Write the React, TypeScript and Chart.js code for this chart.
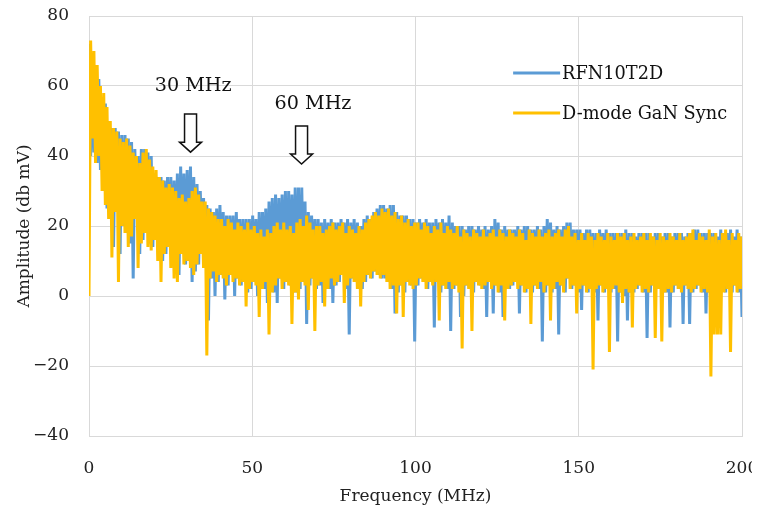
import React, { useEffect, useRef } from "react";
import { Chart, registerables } from "chart.js";
Chart.register(...registerables);

// 1 MHz bins (0..199): peak and trough (dB mV)
const BLUE_HI = [
  72, 67, 66, 62, 56, 55, 50, 48, 48, 47,
  46, 46, 45, 44, 42, 40, 42, 42, 41, 40,
  35, 34, 34, 33, 34, 34, 33, 35, 37, 35,
  36, 37, 34, 32, 30, 28, 26, 25, 24, 25,
  26, 24, 23, 23, 23, 24, 22, 22, 22, 22,
  23, 22, 24, 24, 25, 27, 28, 29, 28, 29,
  30, 30, 29, 31, 31, 31, 27, 24, 23, 22,
  22, 21, 22, 21, 22, 21, 21, 22, 21, 22,
  21, 22, 21, 20, 22, 23, 22, 24, 25, 26,
  26, 25, 26, 26, 24, 23, 23, 23, 22, 22,
  21, 22, 21, 22, 21, 21, 22, 21, 22, 21,
  23, 21, 20, 20, 20, 19, 20, 20, 19, 20,
  19, 20, 19, 20, 22, 21, 19, 20, 19, 19,
  19, 20, 19, 20, 20, 19, 19, 20, 19, 20,
  22, 21, 19, 20, 19, 20, 21, 21, 19, 19,
  19, 18, 19, 19, 18, 18, 19, 18, 19, 18,
  18, 18, 18, 18, 19, 18, 18, 17, 18, 18,
  18, 18, 17, 18, 18, 17, 18, 18, 17, 18,
  18, 18, 17, 18, 18, 19, 19, 18, 18, 18,
  18, 18, 17, 19, 18, 18, 19, 17, 19, 17,
];
const BLUE_LO = [
  40, 41, 38, 36, 30, 25, 24, 14, 24, 12,
  20, 18, 15, 5, 22, 12, 16, 18, 15, 14,
  16, 12, 10, 12, 14, 10, 8, 6, 12, 9,
  10, 4, 7, 9, 12, 8, -7, 5, 0, 4,
  6, -1, 3, 6, 0, 5, 3, 4, 1, 2,
  4, 0, 2, 2, -2, 3, 1, -2, 5, 2,
  4, 3, 1, 1, 2, 4, -8, 3, 5, 2,
  3, -2, 3, 2, -2, 3, 4, 6, 2, -11,
  5, 4, 2, 2, 4, 6, 5, 7, 6, 5,
  5, 4, 2, -5, 1, 3, 1, 4, 3, -13,
  3, 5, 4, 2, 4, -9, 4, 1, 3, 2,
  -10, 2, 3, -6, 0, 3, 2, 1, 4, 3,
  2, -6, 4, -5, 3, 1, -6, 2, 2, 3,
  4, -5, 3, 1, 2, 1, 3, 2, -13, 1,
  3, 1, 2, -11, 3, 1, 5, 2, 3, 1,
  -4, 3, 1, 2, 1, -7, 3, 1, 2, 1,
  2, -13, 1, 0, -7, 1, 1, 2, 3, 1,
  -12, 1, 3, 2, 2, 1, 1, -9, 1, 3,
  2, -8, 3, -8, 1, 2, 3, 1, -5, 1,
  1, 1, 2, 2, 1, 2, 1, 3, 1, -6,
];
const GOLD_HI = [
  73, 70, 66, 60, 58, 54, 50, 48, 47, 45,
  44, 45, 43, 41, 40, 38, 41, 42, 39, 37,
  36, 34, 33, 31, 32, 31, 30, 28, 29, 27,
  28, 30, 31, 29, 27, 27, 25, 24, 23, 22,
  22, 20, 22, 21, 19, 21, 20, 19, 21, 19,
  20, 18, 19, 17, 19, 18, 20, 21, 19, 21,
  19, 20, 18, 21, 22, 20, 23, 21, 19, 20,
  20, 18, 19, 20, 21, 19, 20, 21, 18, 20,
  19, 18, 20, 19, 21, 22, 23, 24, 23, 25,
  24, 25, 23, 24, 22, 23, 21, 22, 20, 21,
  21, 19, 21, 20, 18, 20, 19, 21, 18, 20,
  19, 18, 20, 17, 19, 18, 17, 19, 18, 17,
  19, 17, 18, 19, 17, 19, 18, 17, 19, 18,
  17, 19, 18, 16, 19, 18, 17, 19, 17, 18,
  19, 17, 18, 19, 17, 19, 20, 17, 18, 16,
  18, 16, 18, 17, 16, 18, 17, 16, 18, 17,
  16, 18, 17, 18, 16, 17, 18, 16, 17, 18,
  16, 18, 17, 16, 18, 17, 16, 18, 17, 16,
  18, 16, 17, 18, 19, 16, 18, 17, 16, 19,
  17, 18, 16, 18, 19, 16, 18, 16, 18, 17,
];
const GOLD_LO = [
  0, 45, 38, 40, 30, 26, 22, 11, 24, 4,
  20, 18, 14, 17, 22, 8, 15, 18, 14, 13,
  16, 10, 4, 12, 14, 8, 5, 4, 12, 9,
  10, 8, 6, 9, 12, 8, -17, 5, 7, 4,
  6, 5, 3, 6, 4, 5, 3, 4, -3, 2,
  4, 3, -6, 2, 4, -11, 1, 3, 5, 2,
  4, 3, -8, 1, -1, 4, 3, -4, 5, -10,
  3, 4, -3, 2, 5, 3, 4, 6, -2, 3,
  5, 4, 2, -3, 4, 6, 5, 7, 6, 5,
  6, 4, 2, 3, -5, 3, -6, 4, 3, 2,
  3, 5, 4, 2, 4, 3, 4, -7, 3, 2,
  4, 2, 3, 1, -15, 3, 2, -10, 4, 3,
  2, 3, 4, 2, 3, 1, 3, -7, 2, 3,
  4, 2, 3, 1, 2, -8, 3, 2, 4, 1,
  3, -7, 2, 4, 3, 1, 5, 2, 3, -5,
  2, 3, 1, 2, -21, 2, 3, 1, 2, -16,
  2, 3, 1, -2, 2, 1, -9, 2, 3, 1,
  2, 1, 3, -12, 2, -13, 1, 2, 1, 3,
  2, 1, 3, 2, 1, 2, 3, 1, 2, 1,
  -23, -11, -11, -11, 1, 2, -16, 3, 1, 2,
];

const X_TICKS = [0, 50, 100, 150, 200];
const Y_TICKS = [-40, -20, 0, 20, 40, 60, 80];
const SERIES_NAMES = ["RFN10T2D", "D-mode GaN Sync"];
const COLORS = ["#5B9BD5", "#FFC000"];

// annotations: [label, text centre MHz, text centre dB, arrow MHz, arrow top dB, arrow tip dB]
const MARKERS: [string, number, number, number, number, number][] = [
  ["30 MHz", 31.9, 60, 31.1, 52, 41.1],
  ["60 MHz", 68.6, 54.9, 65.1, 48.6, 37.7],
];
const LEGEND_POS = { x: 129.9, y: [63.7, 52.3] };

const FONT = "'DejaVu Serif', 'Liberation Serif', serif";
const FS = 17;

function interleave(hi: number[], lo: number[], hiFirst: boolean) {
  const pts: { x: number; y: number }[] = [];
  const k = 200 / 199.5;
  for (let i = 0; i < hi.length; i++) {
    if (hiFirst) {
      pts.push({ x: i * k, y: hi[i] });
      pts.push({ x: (i + 0.5) * k, y: lo[i] });
    } else {
      pts.push({ x: i * k, y: lo[i] });
      pts.push({ x: (i + 0.5) * k, y: hi[i] });
    }
  }
  return pts;
}

// font size that gives the text the width it has in the reference
function fitSize(ctx: CanvasRenderingContext2D, text: string, width: number) {
  ctx.font = `20px ${FONT}`;
  const w = ctx.measureText(text).width;
  return Math.max(12, Math.min(24, (20 * width) / w));
}

const overlay = {
  id: "overlay",
  afterDatasetsDraw(chart: any) {
    const { ctx, scales } = chart;
    const xs = scales.x, ys = scales.y;
    ctx.save();
    const annSize = fitSize(ctx, "30 MHz", 77);
    ctx.font = `${annSize}px ${FONT}`;
    ctx.textAlign = "center";
    ctx.textBaseline = "middle";
    for (const [label, tx, ty, ax, atop, atip] of MARKERS) {
      ctx.fillStyle = "#111";
      ctx.fillText(label, xs.getPixelForValue(tx), ys.getPixelForValue(ty));
      const cx = xs.getPixelForValue(ax);
      const yTop = ys.getPixelForValue(atop);
      const yTip = ys.getPixelForValue(atip);
      const headH = 10, shaftW = 6, headW = 11;
      ctx.beginPath();
      ctx.moveTo(cx - shaftW, yTop);
      ctx.lineTo(cx + shaftW, yTop);
      ctx.lineTo(cx + shaftW, yTip - headH);
      ctx.lineTo(cx + headW, yTip - headH);
      ctx.lineTo(cx, yTip);
      ctx.lineTo(cx - headW, yTip - headH);
      ctx.lineTo(cx - shaftW, yTip - headH);
      ctx.closePath();
      ctx.fillStyle = "#fff";
      ctx.fill();
      ctx.strokeStyle = "#111";
      ctx.lineWidth = 1.5;
      ctx.stroke();
    }
    // legend
    const legSize = fitSize(ctx, SERIES_NAMES[1], 165);
    ctx.font = `${legSize}px ${FONT}`;
    ctx.textAlign = "left";
    const lx = xs.getPixelForValue(LEGEND_POS.x);
    for (let i = 0; i < SERIES_NAMES.length; i++) {
      const ly = ys.getPixelForValue(LEGEND_POS.y[i]);
      ctx.strokeStyle = COLORS[i];
      ctx.lineWidth = 3;
      ctx.beginPath();
      ctx.moveTo(lx, ly);
      ctx.lineTo(lx + 47, ly);
      ctx.stroke();
      ctx.fillStyle = "#111";
      ctx.fillText(SERIES_NAMES[i], lx + 49, ly + 1);
    }
    ctx.restore();
  },
};

export default function App() {
  const ref = useRef<HTMLCanvasElement>(null);
  useEffect(() => {
    const chart = new Chart(ref.current!, {
      type: "line",
      data: {
        datasets: [
          {
            label: SERIES_NAMES[0],
            data: interleave(BLUE_HI, BLUE_LO, true),
            borderColor: COLORS[0],
            borderWidth: 3,
            borderJoinStyle: "bevel",
            pointRadius: 0,
            tension: 0,
            order: 2,
          },
          {
            label: SERIES_NAMES[1],
            data: interleave(GOLD_HI, GOLD_LO, false),
            borderColor: COLORS[1],
            borderWidth: 3,
            borderJoinStyle: "bevel",
            pointRadius: 0,
            tension: 0,
            order: 1,
          },
        ],
      },
      options: {
        responsive: false,
        animation: false,
        layout: { padding: { top: 8, right: 10, left: 0, bottom: 0 } },
        plugins: { legend: { display: false }, tooltip: { enabled: false } },
        scales: {
          x: {
            type: "linear",
            min: 0,
            max: 200,
            afterBuildTicks: (s: any) => { s.ticks = X_TICKS.map((v) => ({ value: v })); },
            afterFit: (s: any) => { s.height = 69; s.paddingLeft = 0; s.paddingRight = 0; },
            grid: { color: "#d9d9d9", drawTicks: false },
            border: { color: "#d9d9d9" },
            ticks: { color: "#222", padding: 22, maxRotation: 0, font: { family: FONT, size: FS } },
            title: {
              display: true,
              text: "Frequency (MHz)",
              color: "#222",
              font: { family: FONT, size: FS, lineHeight: 1 },
              padding: { top: 0, bottom: 0 },
            },
          },
          y: {
            min: -40,
            max: 80,
            afterBuildTicks: (s: any) => { s.ticks = Y_TICKS.map((v) => ({ value: v })); },
            afterFit: (s: any) => { s.width = 81; s.paddingTop = 0; s.paddingBottom = 0; },
            grid: { color: "#d9d9d9", drawTicks: false },
            border: { color: "#d9d9d9" },
            ticks: {
              color: "#222",
              padding: 20,
              font: { family: FONT, size: FS },
              callback: (v: any) => (v < 0 ? "\u2212" + Math.abs(v) : String(v)),
            },
            title: {
              display: true,
              text: "Amplitude (db mV)",
              color: "#222",
              font: { family: FONT, size: FS },
              padding: { top: 6, bottom: 0 },
            },
          },
        },
      },
      plugins: [overlay],
    });
    return () => chart.destroy();
  }, []);
  return (
    <div style={{ width: 744, height: 497 }}>
      <canvas ref={ref} width={744} height={497} />
    </div>
  );
}
